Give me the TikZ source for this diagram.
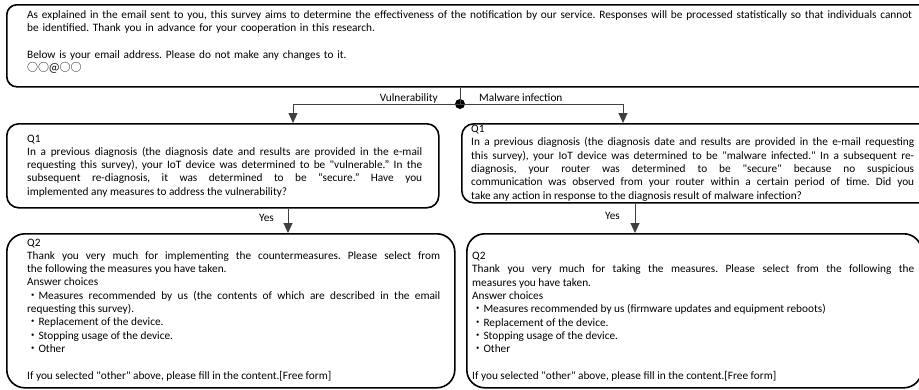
\documentclass[tikz,border=0pt]{standalone}
\usepackage{fontspec}
\setmainfont{Carlito}[Ligatures=TeXOff]
\newfontfamily\cjk{Noto Sans CJK JP}
\usetikzlibrary{arrows.meta}
\newcommand{\bul}{{\cjk ・}}
\frenchspacing
\hyphenpenalty=10000
\exhyphenpenalty=10000
\begin{document}
\begin{tikzpicture}[x=1pt,y=-1pt,
  box/.style={draw=black, line width=1.6pt, inner sep=0pt, anchor=north west},
  txt/.style={inner sep=0pt, anchor=north west, align=justify, font=\fontsize{11.3}{13.3}\selectfont},
  lbl/.style={inner sep=0pt, font=\fontsize{11.3}{13.3}\selectfont},
  conn/.style={draw=black!75, line width=0.9pt},
  arr/.style={conn, -{Triangle[width=9pt,length=10pt]}},
  jdot/.style={circle, fill=black, inner sep=0pt, minimum size=10pt}
]
\useasboundingbox (0,0) rectangle (919,389);
\clip (0,0) rectangle (919,389);
\fill[white] (0,0) rectangle (919,389);

% boxes
\node[box, rounded corners=10pt, minimum width=930pt, minimum height=82pt] (top) at (6,4) {};
\node[box, rounded corners=12pt, minimum width=432pt, minimum height=84pt] (q1l) at (6,123) {};
\node[box, rounded corners=12pt, minimum width=480pt, minimum height=79pt] (q1r) at (461,123) {};
\node[box, rounded corners=18pt, minimum width=448pt, minimum height=154pt] (q2l) at (6,233) {};
\node[box, rounded corners=18pt, minimum width=455pt, minimum height=154pt] (q2r) at (466,233) {};

% texts
\node[txt, text width=905pt, align=left] (toptxt) at (27,8.6) {\strut As explained in the email sent to you, this survey aims to determine the effectiveness of the notification by our service. Responses will be processed statistically so that individuals cannot\\
be identified. Thank you in advance for your cooperation in this research.\\
\strut\\
Below is your email address. Please do not make any changes to it.\\
{\cjk\fontsize{11}{13.3}\selectfont ○○@○○}};

\node[txt, text width=395pt] (q1ltxt) at (27,132.5) {\strut Q1\\
In a previous diagnosis (the diagnosis date and results are provided in the e-mail\linebreak
requesting this survey), your IoT device was determined to be "vulnerable.” In the\linebreak
subsequent re-diagnosis, it was determined to be “secure.” Have you\linebreak
implemented any measures to address the vulnerability?};

\node[txt, text width=443pt] (q1rtxt) at (471,123) {\strut Q1\\
In a previous diagnosis (the diagnosis date and results are provided in the e-mail requesting\linebreak
this survey), your IoT device was determined to be "malware infected." In a subsequent re-\linebreak
diagnosis, your router was determined to be "secure" because no suspicious\linebreak
communication was observed from your router within a certain period of time. Did you\linebreak
take any action in response to the diagnosis result of malware infection?};

\node[txt, text width=413pt] (q2ltxt) at (27,236.5) {\strut Q2\\
Thank you very much for implementing the countermeasures. Please select from\linebreak
the following the measures you have taken.\\
Answer choices\\
\bul Measures recommended by us (the contents of which are described in the email\linebreak
requesting this survey).\\
\bul Replacement of the device.\\
\bul Stopping usage of the device.\\
\bul Other\\
\strut\\
If you selected "other" above, please fill in the content.[Free form]};

\node[txt, text width=442pt] (q2rtxt) at (472,250) {\strut Q2\\
Thank you very much for taking the measures. Please select from the following the\linebreak
measures you have taken.\\
Answer choices\\
\bul Measures recommended by us (firmware updates and equipment reboots)\\
\bul Replacement of the device.\\
\bul Stopping usage of the device.\\
\bul Other\\
\strut\\
If you selected "other" above, please fill in the content.[Free form]};

% connectors
\node[jdot] (split) at (460,104) {};
\coordinate (vl) at (293,123);
\coordinate (vr) at (623,123);
\coordinate (yl) at (288,233);
\coordinate (yr) at (635,233);
\draw[conn] (top.south -| split) -- (split.center);
\draw[arr] (split.center) -| (vl);
\draw[arr] (split.center) -| (vr);
\draw[arr] (q1l.south -| yl) -- (yl);
\draw[arr] (q1r.south -| yr) -- (yr);

% labels
\node[lbl, anchor=base east] (lvul) at (438,101) {Vulnerability};
\node[lbl, anchor=base west] (lmal) at (479,101) {Malware infection};
\node[lbl, anchor=base east] (lyes1) at (274,221) {Yes};
\node[lbl, anchor=base east] (lyes2) at (620,219) {Yes};
\end{tikzpicture}
\end{document}
